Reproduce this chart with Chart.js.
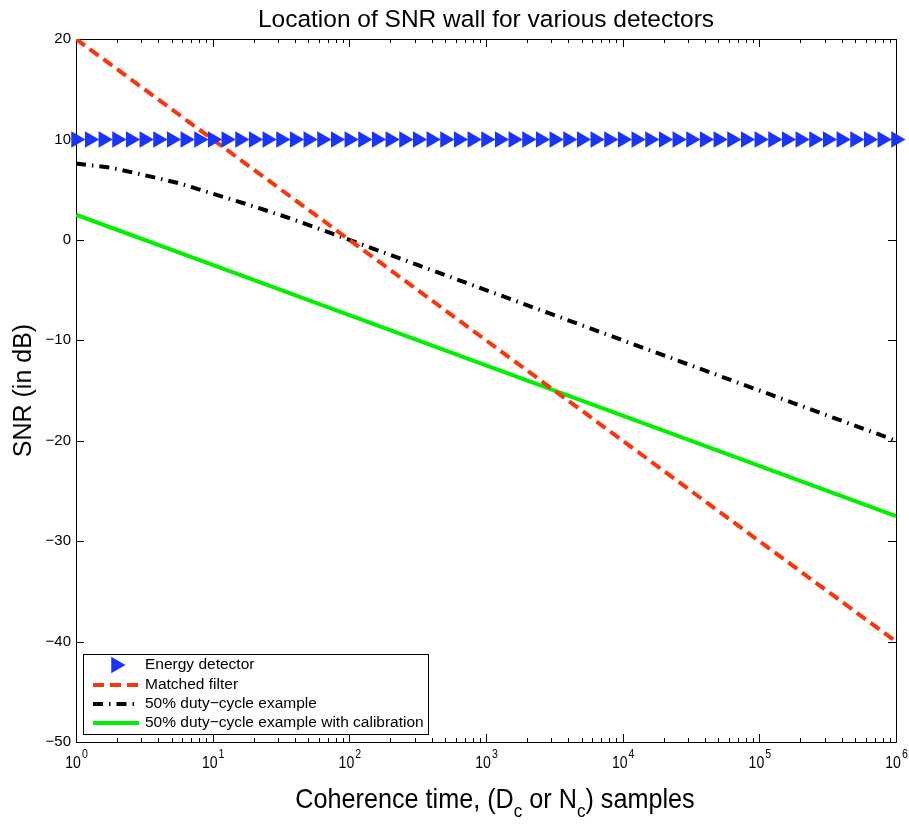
<!DOCTYPE html>
<html>
<head>
<meta charset="utf-8">
<script src="https://cdn.jsdelivr.net/npm/chart.js@4.4.1/dist/chart.umd.min.js"></script>
<style>
  html, body { margin: 0; padding: 0; background: #fff; }
</style>
</head>
<body>
<canvas id="myChart" width="909" height="831"></canvas>
<script>
const ctx = document.getElementById("myChart").getContext("2d");

const titleText = "Location of SNR wall for various detectors";
const yTitle = "SNR (in dB)";
const legendLabels = [
  "Energy detector",
  "Matched filter",
  "50% duty\u2212cycle example",
  "50% duty\u2212cycle example with calibration"
];
const yTicks = [20, 10, 0, -10, -20, -30, -40, -50];
const xTickExps = [0, 1, 2, 3, 4, 5, 6];

// energy detector: markers every 0.1 decade, flat at 10 dB
const energyExps = [
  0, 0.1, 0.2, 0.3, 0.4, 0.5, 0.6, 0.7, 0.8, 0.9,
  1, 1.1, 1.2, 1.3, 1.4, 1.5, 1.6, 1.7, 1.8, 1.9,
  2, 2.1, 2.2, 2.3, 2.4, 2.5, 2.6, 2.7, 2.8, 2.9,
  3, 3.1, 3.2, 3.3, 3.4, 3.5, 3.6, 3.7, 3.8, 3.9,
  4, 4.1, 4.2, 4.3, 4.4, 4.5, 4.6, 4.7, 4.8, 4.9,
  5, 5.1, 5.2, 5.3, 5.4, 5.5, 5.6, 5.7, 5.8, 5.9, 6
];
const energyLevel = 10;

const matchedN = [1, 10, 100, 1000, 1e4, 1e5, 1e6];
const matchedSnr = [20, 10, 0, -10, -20, -30, -40];

const dutyN = [1, 1.78, 3.16, 5.62, 10, 17.8, 31.6, 56.2, 100, 316, 1000, 1e4, 1e5, 1e6];
const dutySnr = [7.6, 7.2, 6.45, 5.65, 4.6, 3.55, 2.45, 1.25, 0.0, -2.5, -5.0, -10, -15, -20];

const calN = [1, 10, 100, 1000, 1e4, 1e5, 1e6];
const calSnr = [2.5, -2.5, -7.5, -12.5, -17.5, -22.5, -27.5];

const pairs = (xs, ys) => xs.map((x, i) => ({ x: x, y: ys[i] }));

const BLUE = "rgb(26, 52, 255)";
const RED = "rgb(255, 51, 8)";
const GREEN = "rgb(0, 240, 0)";
const FONT = "'Liberation Sans', Arial, Helvetica, sans-serif";

function text(c, str, x, y, size, align, sx) {
  c.save();
  c.font = size + "px " + FONT;
  c.textAlign = align || "left";
  c.translate(x, y);
  c.scale(sx || 1, 1);
  c.fillText(str, 0, 0);
  c.restore();
}

const axesPlugin = {
  id: "matlabAxes",
  beforeDatasetsDraw(chart) {
    const c = chart.ctx;
    const a = chart.chartArea;
    const xs = chart.scales.x, ys = chart.scales.y;
    c.save();
    c.strokeStyle = "#000";
    c.lineWidth = 1;
    c.beginPath();
    c.rect(Math.round(a.left) + 0.5, Math.round(a.top) + 0.5,
           Math.round(a.right - a.left), Math.round(a.bottom - a.top));
    c.stroke();
    // y ticks
    yTicks.forEach(v => {
      const py = Math.round(ys.getPixelForValue(v)) + 0.5;
      c.beginPath();
      c.moveTo(a.left, py); c.lineTo(a.left + 8, py);
      c.moveTo(a.right, py); c.lineTo(a.right - 8, py);
      c.stroke();
    });
    // x ticks, major and minor
    xTickExps.forEach(e => {
      for (let m = 1; m < 10; m++) {
        if (e === 6 && m > 1) break;
        const px = Math.round(xs.getPixelForValue(m * Math.pow(10, e))) + 0.5;
        const len = m === 1 ? 8 : 4;
        c.beginPath();
        c.moveTo(px, a.bottom); c.lineTo(px, a.bottom - len);
        c.moveTo(px, a.top); c.lineTo(px, a.top + len);
        c.stroke();
      }
    });
    c.restore();
  },
  afterDatasetsDraw(chart) {
    const c = chart.ctx;
    const a = chart.chartArea;
    const xs = chart.scales.x, ys = chart.scales.y;
    c.save();
    c.fillStyle = "#000";
    c.textBaseline = "middle";
    yTicks.forEach(v => {
      const lbl = v < 0 ? "\u2212" + Math.abs(v) : String(v);
      text(c, lbl, a.left - 5, ys.getPixelForValue(v), 15, "right");
    });
    c.textBaseline = "alphabetic";
    xTickExps.forEach(e => {
      const px = xs.getPixelForValue(Math.pow(10, e));
      c.font = "16px " + FONT;
      const wBase = c.measureText("10").width * 0.88;
      c.font = "12px " + FONT;
      const wExp = c.measureText(String(e)).width * 0.88;
      const x0 = px - (wBase + wExp) / 2;
      text(c, "10", x0, 768, 16, "left", 0.88);
      text(c, String(e), x0 + wBase + 1, 758, 12, "left", 0.88);
    });
    // title
    text(c, titleText, (a.left + a.right) / 2, 27, 24.5, "center");
    // y title
    c.save();
    c.translate(31, (a.top + a.bottom) / 2);
    c.rotate(-Math.PI / 2);
    text(c, yTitle, 0, 0, 25, "center");
    c.restore();
    // x title with subscripts
    const parts = [
      ["Coherence time, (D", 0], ["c", 1], [" or N", 0], ["c", 1], [") samples", 0]
    ];
    const sx = 0.9, big = 28, small = 19;
    let total = 0;
    parts.forEach(p => {
      c.font = (p[1] ? small : big) + "px " + FONT;
      total += c.measureText(p[0]).width * sx;
    });
    let cx = (a.left + a.right) / 2 + 9 - total / 2;
    parts.forEach(p => {
      const size = p[1] ? small : big;
      c.font = size + "px " + FONT;
      text(c, p[0], cx, p[1] ? 817 : 808, size, "left", sx);
      cx += c.measureText(p[0]).width * sx;
    });
    // legend
    const lx = 83.5, ly = 654.5, lw = 345, lh = 80;
    c.fillStyle = "#fff";
    c.fillRect(lx, ly, lw, lh);
    c.strokeStyle = "#000";
    c.lineWidth = 1;
    c.strokeRect(lx, ly, lw, lh);
    const rows = [665, 685, 704, 723];
    chart.data.datasets.forEach((ds, i) => {
      const y = rows[i];
      if (i === 0) {
        c.save();
        c.fillStyle = ds.pointBackgroundColor;
        c.beginPath();
        const r = 9.5, cxp = 116, ang = Math.PI / 2;
        for (let k = 0; k < 3; k++) {
          const t = ang + k * 2 * Math.PI / 3;
          const X = cxp + Math.sin(t) * r, Y = y - Math.cos(t) * r;
          if (k === 0) c.moveTo(X, Y); else c.lineTo(X, Y);
        }
        c.closePath();
        c.fill();
        c.restore();
      } else {
        c.save();
        c.strokeStyle = ds.borderColor;
        c.lineWidth = ds.borderWidth;
        c.setLineDash(ds.borderDash || []);
        c.beginPath();
        c.moveTo(93, y); c.lineTo(139, y);
        c.stroke();
        c.restore();
      }
      c.fillStyle = "#000";
      c.textBaseline = "middle";
      text(c, ds.label, 145, y, 15.5, "left");
    });
    c.restore();
  }
};

const data = {
  datasets: [
    {
      label: legendLabels[0],
      data: energyExps.map(e => ({ x: Math.pow(10, e), y: energyLevel })),
      showLine: false,
      pointStyle: "triangle",
      pointRotation: 90,
      pointRadius: 9.5,
      pointBackgroundColor: BLUE,
      pointBorderWidth: 0,
      borderColor: BLUE,
      clip: false
    },
    {
      label: legendLabels[1],
      data: pairs(matchedN, matchedSnr),
      borderColor: RED,
      borderWidth: 4,
      borderDash: [11, 6],
      pointRadius: 0,
      fill: false
    },
    {
      label: legendLabels[2],
      data: pairs(dutyN, dutySnr),
      borderColor: "#000",
      borderWidth: 4,
      borderDash: [10, 6, 1.5, 6],
      pointRadius: 0,
      fill: false
    },
    {
      label: legendLabels[3],
      data: pairs(calN, calSnr),
      borderColor: GREEN,
      borderWidth: 4,
      pointRadius: 0,
      fill: false
    }
  ]
};

const config = {
  type: "line",
  data: data,
  plugins: [axesPlugin],
  options: {
    responsive: false,
    animation: false,
    layout: { padding: { left: 76, right: 13, top: 39, bottom: 89 } },
    plugins: { legend: { display: false }, tooltip: { enabled: false } },
    scales: {
      x: { type: "logarithmic", min: 1, max: 1e6, display: false },
      y: { type: "linear", min: -50, max: 20, display: false }
    }
  }
};

const myChart = new Chart(ctx, config);
</script>
</body>
</html>
